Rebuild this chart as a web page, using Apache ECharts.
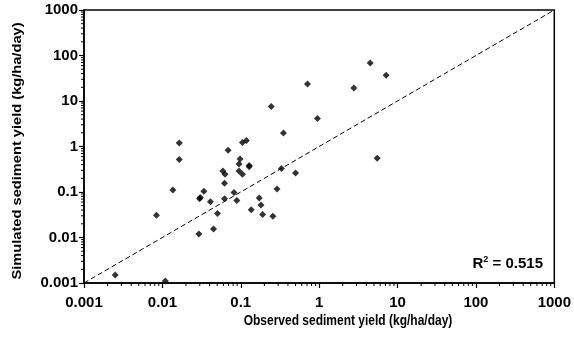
<!DOCTYPE html>
<html>
<head>
<meta charset="utf-8">
<script src="https://cdn.jsdelivr.net/npm/echarts@6/dist/echarts.min.js"></script>
<style>
  html, body { margin: 0; padding: 0; background: #fff; }
  #chart { width: 574px; height: 345px; }
</style>
</head>
<body>
<div id="chart"></div>
<script>
// observed vs simulated sediment yield (kg/ha/day)
const observed = [
  0.245, 0.95, 0.35, 0.0164, 0.105, 0.118, 0.069, 0.0164, 0.098, 0.095,
  0.128, 0.128, 0.059, 0.063, 0.095, 0.105, 0.33, 0.5, 0.062, 0.0136,
  0.29, 0.0338, 0.082, 0.0304, 0.0298, 0.041, 0.062, 0.089, 0.172, 0.181,
  0.136, 0.19, 0.257, 0.0505, 0.0084, 0.0449, 0.0292, 0.0025, 0.0109, 5.5,
  0.71, 2.77, 4.48, 7.15
]
const simulated = [
  7.6, 4.1, 1.98, 1.2, 1.22, 1.35, 0.83, 0.52, 0.53, 0.41,
  0.38, 0.36, 0.29, 0.246, 0.29, 0.246, 0.33, 0.263, 0.156, 0.111,
  0.117, 0.104, 0.0975, 0.076, 0.0707, 0.061, 0.0707, 0.065, 0.074, 0.052,
  0.0406, 0.032, 0.0294, 0.0337, 0.031, 0.0153, 0.0119, 0.0015, 0.0011, 0.55,
  23.5, 19.2, 68, 36.6
]
const oneToOne = [[0.001, 0.001], [1000, 1000]]
const axisMin = 0.001
const axisMax = 1000
const rSquared = "0.515"

const font = "Arial, 'Liberation Sans', sans-serif"

// minor log ticks 2..9 in each decade
const minorTicks = []
for (let k = -3; k < 3; k++) {
  for (let m = 2; m <= 9; m++) minorTicks.push(m * Math.pow(10, k))
}

const points = observed.map((x, i) => [x, simulated[i]])

const chart = echarts.init(document.getElementById("chart"), null, { renderer: "canvas" })

const labelFmt = (v) => String(Number(v.toPrecision(3)))

const axisCommon = {
  type: "log",
  logBase: 10,
  min: axisMin,
  max: axisMax,
  splitNumber: 6,
  axisLine: { show: true, lineStyle: { color: "#000", width: 1.5 } },
  axisTick: { show: true, inside: false, length: 5, lineStyle: { color: "#000", width: 1.2 } },
  splitLine: { show: false },
  axisLabel: { color: "#000", fontSize: 15, fontWeight: "bold", fontFamily: font, formatter: labelFmt },
}

const option = {
  animation: false,
  backgroundColor: "#fff",
  grid: {
    left: 84, right: 19, top: 10, bottom: 62,
    show: true, borderColor: "#000", borderWidth: 1.5,
  },
  xAxis: Object.assign({}, axisCommon, {
    axisLabel: Object.assign({}, axisCommon.axisLabel, { margin: 12 }),
  }),
  yAxis: Object.assign({}, axisCommon, {
    axisLabel: Object.assign({}, axisCommon.axisLabel, { margin: 6 }),
  }),
  graphic: [
    {
      type: "text",
      x: 18, y: 151,
      rotation: Math.PI / 2,
      scaleX: 1.22,
      style: {
        text: "Simulated sediment yield (kg/ha/day)",
        font: "bold 12px " + font,
        fill: "#000",
        align: "center",
        verticalAlign: "middle",
      },
    },
    {
      type: "text",
      x: 348, y: 321,
      scaleY: 1.25,
      style: {
        text: "Observed sediment yield (kg/ha/day)",
        font: "bold 12px " + font,
        fill: "#000",
        align: "center",
        verticalAlign: "middle",
      },
    },
    {
      type: "text",
      x: 543, y: 263,
      style: {
        text: "{r|R}{s|2}{r| = " + rSquared + "}",
        align: "right",
        verticalAlign: "middle",
        rich: {
          r: { fontSize: 15, fontWeight: "bold", fontFamily: font, fill: "#000", verticalAlign: "bottom" },
          s: { fontSize: 9, fontWeight: "bold", fontFamily: font, fill: "#000", verticalAlign: "top", padding: [0, 0, 7, 0] },
        },
      },
    },
  ],
  series: [
    {
      type: "line",
      data: oneToOne,
      symbol: "none",
      silent: true,
      lineStyle: { color: "#000", width: 1, type: [5, 3] },
      z: 2,
    },
    {
      type: "scatter",
      data: points,
      symbol: "diamond",
      symbolSize: 7,
      itemStyle: { color: "#000" },
      z: 3,
    },
    {
      type: "custom",
      data: minorTicks.map((v) => [v, 1]),
      clip: false,
      silent: true,
      z: 5,
      renderItem: (params, api) => {
        const x = api.coord([api.value(0), 1])[0]
        const y = params.coordSys.y + params.coordSys.height
        return {
          type: "line",
          shape: { x1: x, y1: y, x2: x, y2: y + 3 },
          style: { stroke: "#000", lineWidth: 1 },
        }
      },
    },
    {
      type: "custom",
      data: minorTicks.map((v) => [1, v]),
      clip: false,
      silent: true,
      z: 5,
      renderItem: (params, api) => {
        const y = api.coord([1, api.value(1)])[1]
        const x = params.coordSys.x
        return {
          type: "line",
          shape: { x1: x - 3, y1: y, x2: x, y2: y },
          style: { stroke: "#000", lineWidth: 1 },
        }
      },
    },
  ],
}

chart.setOption(option)
window.addEventListener("resize", () => chart.resize())
</script>
</body>
</html>
